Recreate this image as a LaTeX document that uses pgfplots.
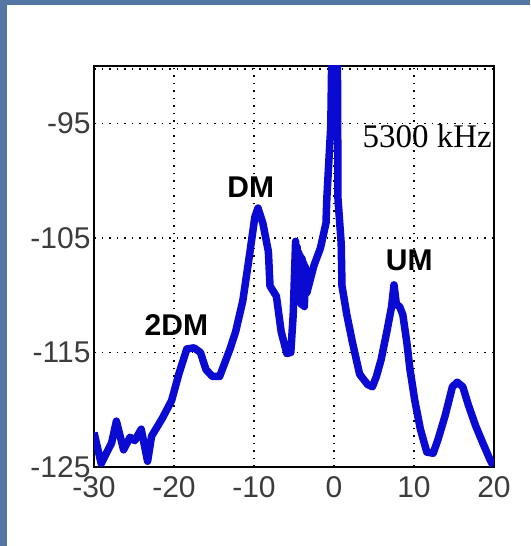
\documentclass[border=0pt]{standalone}
\usepackage{pgfplots}
\pgfplotsset{compat=1.18}
\usepackage{fontspec}
\setmainfont{Liberation Sans}
\newfontfamily\timesfont{Liberation Serif}
\definecolor{bgblue}{RGB}{84,118,164}
\definecolor{lineblue}{RGB}{10,10,210}
\definecolor{ticktext}{RGB}{60,60,60}
\begin{document}
\begin{tikzpicture}[x=1pt,y=1pt]
\fill[white] (0,0) rectangle (530,546);
\fill[bgblue] (0,0) rectangle (7,546);
\fill[bgblue] (0,541) rectangle (530,546);
\begin{axis}[at={(94pt,79pt)}, anchor=south west, scale only axis,
  width=400pt, height=401pt,
  xmin=-30, xmax=20, ymin=-125, ymax=-90,
  xtick={-30,-20,-10,0,10,20}, ytick={-125,-115,-105,-95},
  extra y ticks={-90.25}, extra y tick labels={},
  extra y tick style={grid=major},
  grid=major,
  major grid style={black, line width=1.3pt, dash pattern=on 1.5pt off 6pt},
  major tick length=0pt,
  axis line style={black, line width=1.2pt},
  tick label style={font=\fontsize{30}{30}\selectfont, text=ticktext},
  /pgf/number format/assume math mode=true,
  xticklabel style={yshift=-6pt},
]
\addplot[lineblue, line width=7.5pt, line join=round] coordinates {
(-30,-122.0) (-29.1,-124.7) (-27.8,-122.9) (-27.2,-121.0) (-26.3,-123.5)
(-25.5,-122.4) (-24.9,-122.7) (-24.1,-121.7) (-23.3,-124.5) (-22.8,-122.3)
(-21.5,-120.8) (-20.3,-119.2) (-19.4,-116.9) (-18.4,-114.7) (-17.5,-114.6)
(-16.7,-115.0) (-16.0,-116.5) (-15.2,-117.1) (-14.3,-117.1) (-13.7,-116.0)
(-13.0,-114.7) (-12.3,-113.2) (-11.4,-110.5) (-10.5,-106.2) (-9.9,-103.2)
(-9.5,-102.4) (-8.9,-103.7) (-8.2,-106.2) (-8.0,-109.2) (-7.2,-110.1)
(-6.6,-113.2) (-5.9,-115.1) (-5.4,-115.0) (-5.1,-111.7) (-4.8,-105.3)
(-4.7,-110.0) (-4.6,-105.8) (-4.5,-110.5) (-4.4,-106.3) (-4.3,-110.6) (-4.2,-106.6)
(-4.1,-110.8) (-4.0,-106.8) (-3.9,-110.9) (-3.8,-107.2) (-3.7,-111.0) (-3.6,-107.5) (-3.4,-109.8) (-2.5,-107.4)
(-1.7,-105.9) (-1.0,-103.7) (-0.9,-101.6) (-0.4,-95.2) (-0.2,-85)
(0.4,-85) (0.5,-101.6) (0.9,-105.5) (1.0,-109.2) (1.6,-111.7)
(2.3,-114.1) (3.2,-116.9) (4.2,-117.8) (4.8,-118.0) (5.3,-117.1)
(5.9,-115.6) (6.6,-113.2) (7.2,-111.0) (7.5,-109.1) (7.8,-110.8)
(8.2,-111.0) (8.6,-111.7) (9.1,-114.1) (9.5,-116.5) (10.1,-119.2)
(10.8,-121.7) (11.6,-123.7) (12.4,-123.8) (13.0,-122.6) (13.9,-120.5)
(14.8,-118.0) (15.4,-117.6) (16.1,-118.0) (16.8,-119.6) (17.7,-121.4)
(18.6,-122.9) (19.4,-124.2) (19.9,-124.9)
};
\node[font=\bfseries\fontsize{30}{30}\selectfont] at (axis cs:-10.4,-100.6) {DM};
\node[font=\bfseries\fontsize{30}{30}\selectfont] at (axis cs:9.4,-107.0) {UM};
\node[font=\bfseries\fontsize{30}{30}\selectfont] at (axis cs:-19.7,-112.6) {2DM};
\node[anchor=east, inner sep=0pt, font=\timesfont\fontsize{33}{33}\selectfont] at (axis cs:19.75,-96.1) {5300 kHz};
\end{axis}
\end{tikzpicture}
\end{document}
